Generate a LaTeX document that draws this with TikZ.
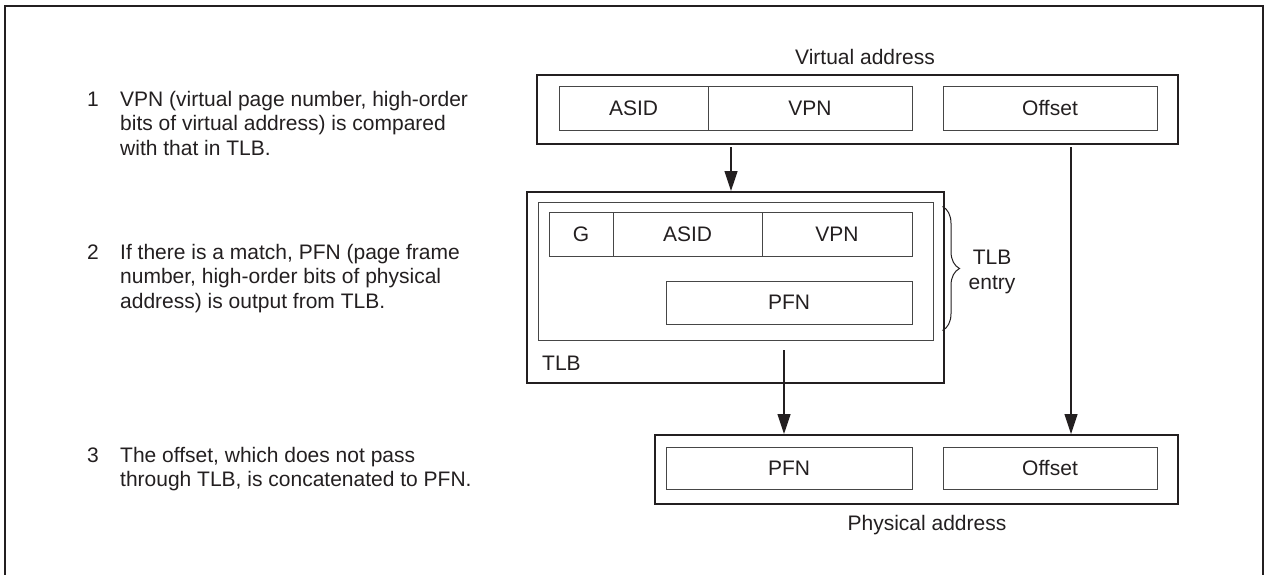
\documentclass[tikz,border=0pt]{standalone}
\usepackage{fontspec}
\setmainfont{Liberation Sans}
\usepackage{tikz}
\usetikzlibrary{arrows.meta, decorations.pathreplacing}
\definecolor{lineblack}{RGB}{35, 31, 32}
\definecolor{linegray}{RGB}{70, 70, 70}

\begin{document}
\begin{tikzpicture}[x=1pt, y=-1pt,
    every node/.style={font=\fontsize{21}{24.5}\selectfont, inner sep=0pt, text=lineblack},
    bigbox/.style args={#1/#2}{draw=lineblack, line width=2pt, minimum width=#1, minimum height=#2},
    field/.style args={#1/#2}{draw=linegray, line width=1pt, minimum width=#1, minimum height=#2},
    item/.style={anchor=north west, align=left},
    arr/.style={-{Triangle[length=20pt, width=13pt]}, draw=lineblack, line width=1.2pt},
    tlbbrace/.style={decorate, decoration={brace, amplitude=17pt}, draw=lineblack, line width=1pt}]
    \useasboundingbox (0,0) rectangle (1265,575);
    \draw[lineblack, line width=2pt] (5,6) rectangle (1263,580);

    % steps on the left
    \node[item] (t1) at (120,89) {\strut VPN (virtual page number, high-order\\bits of virtual address) is compared\\with that in TLB.};
    \node[anchor=north east] (n1) at ([xshift=-21pt]t1.north west) {\strut 1};
    \node[item] (t2) at (120,242) {\strut If there is a match, PFN (page frame\\number, high-order bits of physical\\address) is output from TLB.};
    \node[anchor=north east] (n2) at ([xshift=-21pt]t2.north west) {\strut 2};
    \node[item] (t3) at (120,445) {\strut The offset, which does not pass\\through TLB, is concatenated to PFN.};
    \node[anchor=north east] (n3) at ([xshift=-21pt]t3.north west) {\strut 3};

    % virtual address
    \node (vlabel) at (865,57) {Virtual address};
    \node[bigbox={641pt/69pt}] (vaddr) at (857.5,109.5) {};
    \node[field={149pt/43pt}] (vasid) at (633.5,108.5) {ASID};
    \node[field={204pt/43pt}] (vvpn) at (810,108.5) {VPN};
    \node[field={214pt/43pt}] (voff) at (1050,108.5) {Offset};

    % TLB
    \node[bigbox={417pt/191pt}] (tlb) at (735.5,287.5) {};
    \node[field={395pt/138pt}] (entry) at (735.5,271) {};
    \node[field={64pt/44pt}] (eg) at (581,234) {G};
    \node[field={149pt/44pt}] (easid) at (687.5,234) {ASID};
    \node[field={150pt/44pt}] (evpn) at (837,234) {VPN};
    \node[field={246pt/43pt}] (epfn) at (789,302.5) {PFN};
    \node[anchor=west] (tlbname) at (542,363) {TLB};
    \draw[tlbbrace] ([xshift=9pt, yshift=-5pt]entry.north east) -- ([xshift=9pt, yshift=10pt]entry.south east);
    \node[align=center] (tlbentry) at (992,272) {TLB\\entry};

    % physical address
    \node[bigbox={523pt/69pt}] (paddr) at (916.5,469.5) {};
    \node[field={246pt/42pt}] (ppfn) at (789,468) {PFN};
    \node[field={214pt/42pt}] (poff) at (1050,468) {Offset};
    \node (plabel) at (927,525) {Physical address};

    \coordinate (vstart) at (731,147);
    \coordinate (ostart) at (1071,147);
    \coordinate (pstart) at (784,350);
    \draw[arr] (vstart) -- (vstart |- tlb.north);
    \draw[arr] (ostart) -- (ostart |- paddr.north);
    \draw[arr] (pstart) -- (pstart |- paddr.north);
\end{tikzpicture}
\end{document}
